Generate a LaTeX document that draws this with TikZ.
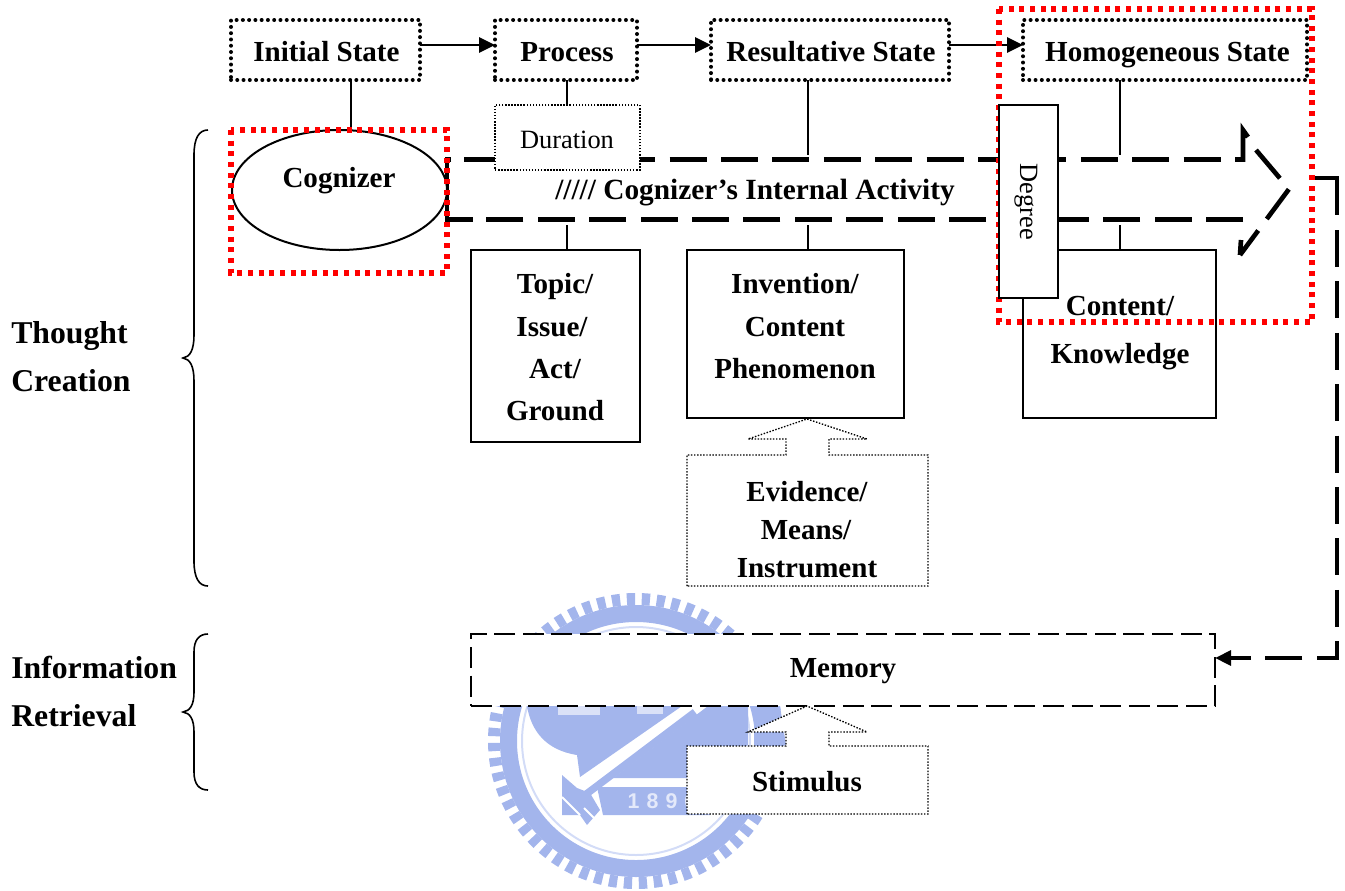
\documentclass[tikz,border=0pt]{standalone}
\usepackage{fontspec}
\setmainfont{Liberation Serif}
\newfontfamily\wmfont{Liberation Sans}
\usetikzlibrary{arrows.meta,shapes.geometric}
\definecolor{wm}{HTML}{A3B5EC}
\definecolor{wmlight}{HTML}{D3DCF7}
\definecolor{wmtext}{HTML}{E4E9FA}
\newcommand{\bxn}[7]{\node[#6,minimum width={(#4-#2)*0.75pt},minimum height={(#5-#3)*0.75pt},at={({(#2+#4)/2},{(#3+#5)/2})}] (#1) {#7};}
\tikzset{
  x=0.75pt,y=-0.75pt,
  base/.style={inner sep=0pt,outer sep=0pt,rectangle},
  dotbox/.style={base,draw=black,line width=3pt,line cap=round,dash pattern=on 0pt off 4.7pt},
  solidbox/.style={base,draw=black,fill=white,line width=1.9pt},
  thindots/.style={draw=black,line width=1pt,dash pattern=on 1.1pt off 1.2pt,fill=white},
  thinbox/.style={base,thindots},
  reddots/.style={draw=red,line width=3.8pt,dash pattern=on 3.8pt off 4.2pt},
  bold/.style={font=\fontsize{21.8}{26}\selectfont\bfseries,inner sep=0pt,anchor=base,yshift=-0.6pt},
  side/.style={font=\fontsize{23.8}{28}\selectfont\bfseries,inner sep=0pt,anchor=base west,yshift=-0.8pt},
  plain/.style={font=\fontsize{19.8}{24}\selectfont,inner sep=0pt,anchor=base},
  link/.style={draw=black,line width=1.5pt},
  flow/.style={link,-{Triangle[length=12pt,width=11.5pt]}},
  heavy/.style={draw=black,line width=3.5pt,line join=miter},
  heavydash/.style={heavy,dash pattern=on 27.75pt off 10.8pt},
  brace/.style={draw=black,line width=1.2pt},
}
\begin{document}
\begin{tikzpicture}
\useasboundingbox (0,0) rectangle (1345,890);
% watermark
\draw[wm,line width=12.75pt] (636,741) circle[radius=127.5*0.75pt];
\draw[wm,line width=9pt,dash pattern=on 6.2pt off 5pt] (636,741) circle[radius=142*0.75pt];
\draw[wmlight,line width=1.5pt] (636,741) circle[radius=114*0.75pt];
\fill[wm] (527,706) .. controls (531,730) and (545,750) .. (577,755) -- (580,777) -- (682,706) -- cycle;
\fill[white,opacity=.6] (558,706) rectangle (600,715);
\fill[white,opacity=.6] (637,706) rectangle (663,714);
\draw[wm,line width=5.5pt] (585,795) -- (695,712);
\fill[wm] (613,778) -- (702,778) -- (748,745) -- (748,706) -- (708,706) -- cycle;
\fill[wm] (754,706) -- (780,706) -- (786,745) -- (754,745) -- cycle;
\fill[wm] (597,787) -- (710,787) -- (710,815) -- (603,815) -- cycle;
\fill[wm] (562,775) -- (577,788) -- (590,793) -- (600,810) -- (587,825) -- (580,815) -- (562,815) -- cycle;
\draw[white,line width=1.5pt] (562,797) -- (580,815);
\draw[white,line width=1.5pt] (584,808) -- (597,821);
\node[font=\wmfont\fontsize{16}{19}\selectfont\bfseries,text=wmtext,inner sep=0pt] (wmy) at (662,801) {1\hspace{5.3pt}8\hspace{5.3pt}9\hspace{5.3pt}6};
% dashed big arrow
\coordinate (aTL) at (447,159.5);
\coordinate (aBL) at (447,219.5);
\coordinate (tip) at (1289,189);
\draw[heavydash] (464,159.5) -- (1243,159.5);
\draw[heavy] (1235,159.5) -- (1243,159.5) -- (1243,130) -- (1248,137);
\draw[heavydash] (1256,150) -- (tip) -- (1240,255);
\draw[heavy] (1240,255) -- (1241,240);
\draw[heavydash] (1243,219.5) -- (473,219.5);
\draw[heavy] (451,159.5) -- (aTL) -- (aBL) -- (473,219.5);
% boxes below arrow
\bxn{topic}{471}{250}{640}{442}{solidbox}{}
\bxn{inv}{687}{250}{904}{418}{solidbox}{}
\bxn{cont}{1023}{250}{1216}{418}{solidbox}{}
\coordinate (tTop) at (567,225);
\coordinate (iTop) at (808,225);
\coordinate (cTop) at (1120,225);
\draw[link] (tTop) -- (tTop |- topic.north);
\draw[link] (iTop) -- (iTop |- inv.north);
\draw[link] (cTop) -- (cTop |- cont.north);
% top row
\bxn{init}{231}{20}{420}{80}{dotbox}{}
\bxn{proc}{495}{20}{637}{80}{dotbox}{}
\bxn{res}{711}{20}{949}{80}{dotbox}{}
\bxn{hom}{1023}{20}{1307}{80}{dotbox}{}
\draw[flow] (init.east |- 0,45) -- (proc.west |- 0,45);
\draw[flow] (proc.east |- 0,45) -- (res.west |- 0,45);
\draw[flow] (res.east |- 0,45) -- (hom.west |- 0,45);
% ellipse
\node[draw=black,fill=white,ellipse,line width=1.5pt,inner sep=0pt,minimum width=215*0.75pt,minimum height=120*0.75pt] (cog) at (339.5,190) {};
\coordinate (iDown) at (351,131);
\draw[link] (iDown |- init.south) -- (iDown);
\coordinate (rDown) at (808,155);
\coordinate (hDown) at (1120,155);
\draw[link] (rDown |- res.south) -- (rDown);
\draw[link] (hDown |- hom.south) -- (hDown);
% duration
\bxn{dur}{495}{105}{640}{170}{thinbox}{}
\coordinate (pDown) at (567,105);
\draw[link] (pDown |- proc.south) -- (pDown);
% evidence callout
\draw[thindots] (687,586) -- (687,455) -- (786,455) -- (786,439) -- (748,439) -- (807,419) -- (867,439) -- (829,439) -- (829,455) -- (928,455) -- (928,586) -- cycle;
% memory
\bxn{mem}{471}{634}{1215}{706}{base,draw=black,fill=white,line width=1.9pt,dash pattern=on 15.75pt off 5.7pt}{}
% stimulus callout
\draw[thindots] (687,814) -- (687,746) -- (786,746) -- (786,732) -- (748,732) -- (807,706) -- (867,732) -- (829,732) -- (829,746) -- (928,746) -- (928,814) -- cycle;
% return arrow
\coordinate (rA) at (1313,178);
\coordinate (rB) at (1337,178);
\coordinate (rC) at (1337,658);
\draw[heavy] (rA) -- (rB) -- (1337,215);
\draw[heavydash,-{Triangle[length=12pt,width=11pt]}] (1337,230) -- (rC) -- (mem.east |- rC);
% red frames
\draw[reddots] (231,130) rectangle (447,273);
\draw[reddots] (999,9) rectangle (1312,322);
% degree
\bxn{deg}{999}{105}{1058}{298}{solidbox}{}
\node[plain,rotate=-90] (degt) at (1020,202) {Degree};
% braces
\draw[brace] (208,130) .. controls (199,130) and (194,138) .. (194,155) -- (194,335) .. controls (194,350) and (190,357) .. (183,358) .. controls (190,359) and (194,366) .. (194,381) -- (194,561) .. controls (194,578) and (199,586) .. (208,586);
\draw[brace] (208,634) .. controls (199,634) and (194,640) .. (194,652) -- (194,692) .. controls (194,705) and (190,711) .. (183,712) .. controls (190,713) and (194,719) .. (194,732) -- (194,772) .. controls (194,784) and (199,790) .. (208,790);
% labels
\node[bold] (t1) at (326.5,61) {Initial State};
\node[bold] (t2) at (567,61) {Process};
\node[bold] (t3) at (831,61) {Resultative State};
\node[bold] (t4) at (1167.5,61) {Homogeneous State};
\node[bold] (t5) at (339,187) {Cognizer};
\node[plain] (t6) at (567,148) {Duration};
\node[bold,font=\fontsize{22}{26}\selectfont\bfseries] (t7) at (755,199) {///// Cognizer’s Internal Activity};
\node[bold] (l1) at (555,293) {Topic/};
\node[bold] (l2) at (552,336) {Issue/};
\node[bold] (l3) at (555,378) {Act/};
\node[bold] (l4) at (555,420) {Ground};
\node[bold] (m1) at (795,293) {Invention/};
\node[bold] (m2) at (795,336) {Content};
\node[bold] (m3) at (795,378) {Phenomenon};
\node[bold] (n1) at (1120,315) {Content/};
\node[bold] (n2) at (1120,363) {Knowledge};
\node[bold] (e1) at (807,501) {Evidence/};
\node[bold] (e2) at (806,539) {Means/};
\node[bold] (e3) at (807,577) {Instrument};
\node[bold] (me) at (843,677) {Memory};
\node[bold] (st) at (807,791) {Stimulus};
\node[side] (g1) at (11,342) {Thought};
\node[side] (g2) at (11,390) {Creation};
\node[side] (g3) at (11,677) {Information};
\node[side] (g4) at (11,725) {Retrieval};
\end{tikzpicture}
\end{document}
